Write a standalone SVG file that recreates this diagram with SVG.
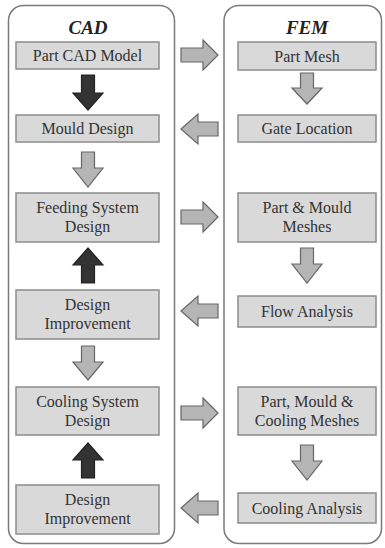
<svg xmlns="http://www.w3.org/2000/svg" width="385" height="548" viewBox="0 0 385 548">
<style>
.panel{fill:#fff;stroke:#7a7a7a;stroke-width:1.5}
.box{fill:#d9d9d9;stroke:#8c8c8c;stroke-width:1.5}
.t{font-family:"Liberation Serif","Times New Roman",serif;font-size:16px;fill:#333;text-anchor:middle}
.title{font-family:"Liberation Serif","Times New Roman",serif;font-size:19px;font-weight:bold;font-style:italic;fill:#222;text-anchor:middle}
.ga{fill:#b5b5b5;stroke:#666;stroke-width:1.2;stroke-linejoin:miter}
.da{fill:#333;stroke:#222;stroke-width:1.2}
</style>
<rect class="panel" x="8.5" y="5.5" width="166" height="538" rx="15"/>
<rect class="panel" x="224" y="5.5" width="157.5" height="538" rx="15"/>
<text class="title" x="88" y="34">CAD</text>
<text class="title" x="307" y="34">FEM</text>

<g id="part-cad-model"><rect class="box" x="16" y="42" width="143" height="27"/><text class="t" x="87.5" y="61">Part CAD Model</text></g>
<g id="mould-design"><rect class="box" x="16" y="115" width="143" height="27"/><text class="t" x="87.5" y="134">Mould Design</text></g>
<g id="feeding-system-design"><rect class="box" x="16" y="193" width="143" height="49"/><text class="t" x="87.5" y="213">Feeding System</text><text class="t" x="87.5" y="232">Design</text></g>
<g id="design-improvement-1"><rect class="box" x="16" y="290" width="143" height="49"/><text class="t" x="87.5" y="310">Design</text><text class="t" x="87.5" y="329">Improvement</text></g>
<g id="cooling-system-design"><rect class="box" x="16" y="387" width="143" height="48"/><text class="t" x="87.5" y="407">Cooling System</text><text class="t" x="87.5" y="426">Design</text></g>
<g id="design-improvement-2"><rect class="box" x="16" y="485" width="143" height="49"/><text class="t" x="87.5" y="505">Design</text><text class="t" x="87.5" y="524">Improvement</text></g>

<g id="part-mesh"><rect class="box" x="238" y="42" width="138" height="28"/><text class="t" x="307" y="61.5">Part Mesh</text></g>
<g id="gate-location"><rect class="box" x="238" y="115" width="138" height="27"/><text class="t" x="307" y="134">Gate Location</text></g>
<g id="part-mould-meshes"><rect class="box" x="238" y="193" width="138" height="49"/><text class="t" x="307" y="213">Part &amp; Mould</text><text class="t" x="307" y="232">Meshes</text></g>
<g id="flow-analysis"><rect class="box" x="238" y="296" width="138" height="31"/><text class="t" x="307" y="317">Flow Analysis</text></g>
<g id="part-mould-cooling-meshes"><rect class="box" x="238" y="387" width="138" height="48"/><text class="t" x="307" y="407">Part, Mould &amp;</text><text class="t" x="307" y="426">Cooling Meshes</text></g>
<g id="cooling-analysis"><rect class="box" x="238" y="493" width="138" height="30"/><text class="t" x="307" y="513.5">Cooling Analysis</text></g>

<g id="connectors">
<!-- left column vertical -->
<polygon class="da" points="81.5,75 94.5,75 94.5,93 103,93 88,110 73,93 81.5,93"/>
<polygon class="ga" points="81.5,152 94.5,152 94.5,168 103,168 88,187 73,168 81.5,168"/>
<polygon class="da" points="81.5,283 94.5,283 94.5,265 103,265 88,248 73,265 81.5,265"/>
<polygon class="ga" points="81.5,346 94.5,346 94.5,362 103,362 88,380 73,362 81.5,362"/>
<polygon class="da" points="81.5,478 94.5,478 94.5,460 103,460 88,443 73,460 81.5,460"/>
<!-- right column vertical -->
<polygon class="ga" points="300.5,73 313.5,73 313.5,88 322,88 307,104 292,88 300.5,88"/>
<polygon class="ga" points="300.5,248 313.5,248 313.5,264 322,264 307,283 292,264 300.5,264"/>
<polygon class="ga" points="300.5,445 313.5,445 313.5,461 322,461 307,480 292,461 300.5,461"/>
<!-- horizontal -->
<polygon class="ga" points="181,48 203,48 203,40 218,55 203,70 203,62 181,62"/>
<polygon class="ga" points="218,122 198,122 198,114 181,129 198,144 198,136 218,136"/>
<polygon class="ga" points="181,210 203,210 203,202 218,217 203,232 203,224 181,224"/>
<polygon class="ga" points="218,304 198,304 198,296 181,311 198,326 198,318 218,318"/>
<polygon class="ga" points="181,406 203,406 203,398 218,413 203,428 203,420 181,420"/>
<polygon class="ga" points="218,501 198,501 198,493 181,508 198,523 198,515 218,515"/>
</g>
</svg>
